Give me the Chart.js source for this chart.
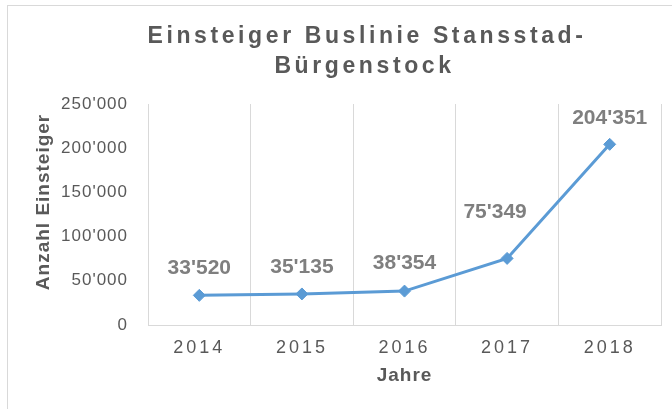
<!DOCTYPE html>
<html><head><meta charset="utf-8">
<script src="https://cdn.jsdelivr.net/npm/chart.js@4/dist/chart.umd.min.js"></script>
<style>
html,body{margin:0;padding:0;background:#fff;overflow:hidden;}
#wrap{position:relative;width:672px;height:409px;}
#frame{position:absolute;left:7px;top:5px;width:700px;height:430px;border:1px solid #d9d9d9;box-sizing:border-box;}
canvas{position:absolute;left:0;top:0;}
</style></head><body>
<div id="wrap"><div id="frame"></div><canvas id="c" width="672" height="409"></canvas></div>
<script>
const years = ['2014', '2015', '2016', '2017', '2018'];
const einsteiger = [33520, 35135, 38354, 75349, 204351];
const yTicks = [0, 50000, 100000, 150000, 200000, 250000];
const titleLines = ['Einsteiger Buslinie Stansstad-', 'Bürgenstock'];
const yTitle = 'Anzahl Einsteiger';
const xTitle = 'Jahre';

const FONT = '"Liberation Sans", Arial, sans-serif';
const fmt = v => String(v).replace(/\B(?=(\d{3})+(?!\d))/g, "'");
const labelOffsets = [[0, -27.5], [0, -27], [0, -27.5], [-12, -46], [0, -26.5]];

const textPlugin = {
  id: 'textPlugin',
  beforeDraw(chart) { chart.ctx.letterSpacing = '1px'; },
  afterDatasetsDraw(chart) { chart.ctx.letterSpacing = '3px'; },
  afterDraw(chart) {
    const ctx = chart.ctx;
    ctx.letterSpacing = '0px';
    // data labels
    ctx.save();
    ctx.font = 'bold 21px ' + FONT;
    ctx.fillStyle = '#7f7f7f';
    ctx.textAlign = 'center';
    ctx.textBaseline = 'middle';
    const meta = chart.getDatasetMeta(0);
    meta.data.forEach((pt, i) => {
      const o = labelOffsets[i];
      ctx.fillText(fmt(einsteiger[i]), pt.x + o[0], pt.y + o[1]);
    });
    ctx.restore();
    // chart title
    ctx.save();
    ctx.font = 'bold 23px ' + FONT;
    ctx.fillStyle = '#595959';
    ctx.letterSpacing = '3.6px';
    ctx.textAlign = 'center';
    ctx.textBaseline = 'alphabetic';
    ctx.fillText(titleLines[0], 367, 43);
    ctx.fillText(titleLines[1], 364.5, 73);
    ctx.restore();
  }
};

new Chart(document.getElementById('c'), {
  type: 'line',
  data: {
    labels: years,
    datasets: [{
      data: einsteiger,
      borderColor: '#5B9BD5',
      backgroundColor: '#5B9BD5',
      borderWidth: 3,
      tension: 0,
      pointStyle: 'rectRot',
      pointRadius: 6,
      pointBackgroundColor: '#5B9BD5',
      pointBorderColor: '#5B9BD5',
      pointBorderWidth: 1,
      fill: false
    }]
  },
  options: {
    responsive: false,
    animation: false,
    events: [],
    layout: { padding: { left: 32, right: 11, top: 104, bottom: 21.6 } },
    plugins: { legend: { display: false }, title: { display: false }, tooltip: { enabled: false } },
    scales: {
      x: {
        offset: true,
        afterFit: s => { s.height = 62.4; },
        grid: { offset: true, color: '#d9d9d9', lineWidth: 1, drawTicks: false },
        border: { display: true, color: '#d9d9d9', width: 1 },
        ticks: { padding: 12, color: '#595959', font: { family: FONT, size: 18 }, z: 1, maxRotation: 0 },
        title: { display: true, text: xTitle, color: '#595959', font: { family: FONT, size: 19, weight: 'bold' }, padding: { top: 6, bottom: 0 } }
      },
      y: {
        min: 0,
        max: 250000,
        afterBuildTicks: s => { s.ticks = yTicks.map(v => ({ value: v })); },
        afterFit: s => { s.width = 116; },
        grid: { display: false, drawTicks: false },
        border: { display: true, color: '#d9d9d9', width: 1 },
        ticks: { padding: 20, color: '#595959', font: { family: FONT, size: 17 }, callback: v => fmt(v) },
        title: { display: true, text: '    ' + yTitle, color: '#595959', font: { family: FONT, size: 19, weight: 'bold' }, padding: 0 }
      }
    }
  },
  plugins: [textPlugin]
});
</script>
</body></html>
